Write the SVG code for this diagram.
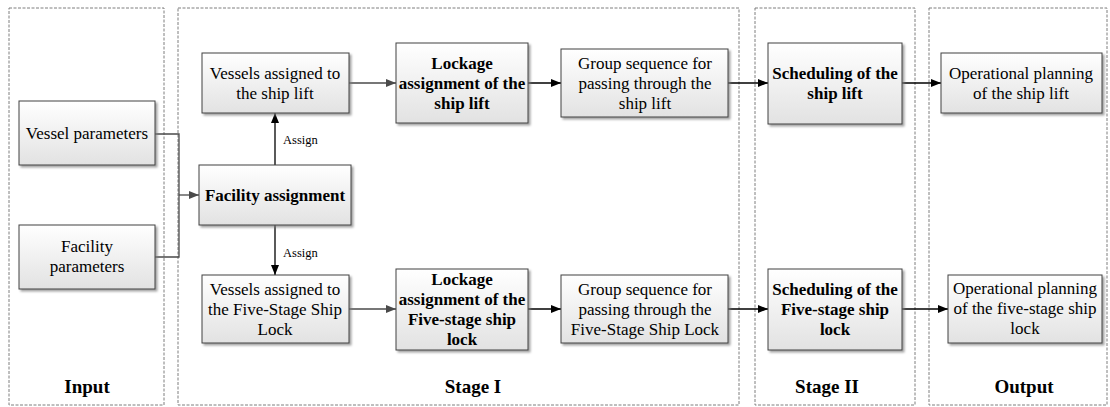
<svg xmlns="http://www.w3.org/2000/svg" width="1110" height="407" viewBox="0 0 1110 407">
<defs>
<linearGradient id="g" x1="0" y1="0" x2="0" y2="1">
<stop offset="0" stop-color="#ffffff"/>
<stop offset="1" stop-color="#e2e2e2"/>
</linearGradient>
<filter id="sh" x="-10%" y="-10%" width="130%" height="130%">
<feDropShadow dx="2" dy="2" stdDeviation="1" flood-color="#7a7a7a" flood-opacity="0.7"/>
</filter>
<marker id="ab" viewBox="0 0 10 10" refX="10" refY="5" markerWidth="10" markerHeight="10" markerUnits="userSpaceOnUse" orient="auto">
<path d="M0,1 L10,5 L0,9 z" fill="#000"/>
</marker>
<marker id="ag" viewBox="0 0 10 10" refX="10" refY="5" markerWidth="10" markerHeight="10" markerUnits="userSpaceOnUse" orient="auto">
<path d="M0,1 L10,5 L0,9 z" fill="#4a4a4a"/>
</marker>
</defs>
<style>
.panel{fill:none;stroke:#7f7f7f;stroke-width:1;stroke-dasharray:3,1.5}
.box{fill:url(#g);stroke:#404040;stroke-width:1;filter:url(#sh)}
.t{font-family:"Liberation Serif","Times New Roman",serif;font-size:17px;fill:#000;text-anchor:middle}
.b{font-weight:bold}
.pl{font-family:"Liberation Serif","Times New Roman",serif;font-size:19px;font-weight:bold;text-anchor:middle}
.as{font-family:"Liberation Serif","Times New Roman",serif;font-size:12.5px}
.cb{fill:none;stroke:#000;stroke-width:1.3;marker-end:url(#ab)}
.cg{fill:none;stroke:#4a4a4a;stroke-width:1.3}
.cga{fill:none;stroke:#4a4a4a;stroke-width:1.3;marker-end:url(#ag)}
</style>
<g id="panels">
<rect class="panel" x="9" y="8" width="155" height="397"/>
<rect class="panel" x="178" y="8" width="561" height="397"/>
<rect class="panel" x="755" y="8" width="160" height="397"/>
<rect class="panel" x="929" y="8" width="178" height="397"/>
<text class="pl" x="87" y="393">Input</text>
<text class="pl" x="473" y="393">Stage I</text>
<text class="pl" x="827" y="393">Stage II</text>
<text class="pl" x="1024" y="393">Output</text>
</g>
<g id="connectors">
<polyline class="cg" points="155,134 179,134 179,257 155,257"/>
<line class="cga" x1="179" y1="195" x2="199" y2="195"/>
<line class="cb" x1="275" y1="165" x2="275" y2="113"/>
<line class="cb" x1="275" y1="225" x2="275" y2="275"/>
<line class="cga" x1="349" y1="83" x2="396" y2="83"/>
<line class="cb" x1="528" y1="83" x2="561" y2="83"/>
<line class="cb" x1="728" y1="83" x2="768" y2="83"/>
<line class="cb" x1="902" y1="83" x2="941" y2="83"/>
<line class="cga" x1="349" y1="309" x2="396" y2="309"/>
<line class="cb" x1="528" y1="309" x2="561" y2="309"/>
<line class="cb" x1="728" y1="309" x2="768" y2="309"/>
<line class="cb" x1="902" y1="309" x2="948" y2="309"/>
<text class="as" x="283" y="144">Assign</text>
<text class="as" x="283" y="257">Assign</text>
</g>
<g id="vessel-params">
<rect class="box" x="19" y="101" width="136" height="64"/>
<text class="t" x="87" y="139">Vessel parameters</text>
</g>
<g id="facility-params">
<rect class="box" x="19" y="225" width="136" height="64"/>
<text class="t" x="87" y="252">Facility</text>
<text class="t" x="87" y="272">parameters</text>
</g>
<g id="facility-assignment">
<rect class="box" x="199" y="165" width="152" height="60"/>
<text class="t b" x="275" y="201">Facility assignment</text>
</g>
<g id="vessels-lift">
<rect class="box" x="202" y="53" width="147" height="60"/>
<text class="t" x="275" y="79">Vessels assigned to</text>
<text class="t" x="275" y="99">the ship lift</text>
</g>
<g id="vessels-lock">
<rect class="box" x="202" y="275" width="147" height="68"/>
<text class="t" x="275" y="295">Vessels assigned to</text>
<text class="t" x="275" y="315">the Five-Stage Ship</text>
<text class="t" x="275" y="335">Lock</text>
</g>
<g id="lockage-lift">
<rect class="box" x="396" y="43" width="132" height="80"/>
<text class="t b" x="462" y="69">Lockage</text>
<text class="t b" x="462" y="89">assignment of the</text>
<text class="t b" x="462" y="109">ship lift</text>
</g>
<g id="lockage-lock">
<rect class="box" x="396" y="269" width="132" height="81"/>
<text class="t b" x="462" y="285">Lockage</text>
<text class="t b" x="462" y="305">assignment of the</text>
<text class="t b" x="462" y="325">Five-stage ship</text>
<text class="t b" x="462" y="345">lock</text>
</g>
<g id="group-lift">
<rect class="box" x="561" y="49" width="167" height="68"/>
<text class="t" x="645" y="69">Group sequence for</text>
<text class="t" x="645" y="89">passing through the</text>
<text class="t" x="645" y="109">ship lift</text>
</g>
<g id="group-lock">
<rect class="box" x="561" y="275" width="167" height="68"/>
<text class="t" x="645" y="295">Group sequence for</text>
<text class="t" x="645" y="315">passing through the</text>
<text class="t" x="645" y="335">Five-Stage Ship Lock</text>
</g>
<g id="sched-lift">
<rect class="box" x="768" y="43" width="134" height="81"/>
<text class="t b" x="835" y="79">Scheduling of the</text>
<text class="t b" x="835" y="99">ship lift</text>
</g>
<g id="sched-lock">
<rect class="box" x="768" y="269" width="134" height="81"/>
<text class="t b" x="835" y="295">Scheduling of the</text>
<text class="t b" x="835" y="315">Five-stage ship</text>
<text class="t b" x="835" y="335">lock</text>
</g>
<g id="op-lift">
<rect class="box" x="941" y="53" width="161" height="60"/>
<text class="t" x="1021" y="79">Operational planning</text>
<text class="t" x="1021" y="99">of the ship lift</text>
</g>
<g id="op-lock">
<rect class="box" x="948" y="275" width="154" height="68"/>
<text class="t" x="1025" y="294">Operational planning</text>
<text class="t" x="1025" y="314">of the five-stage ship</text>
<text class="t" x="1025" y="334">lock</text>
</g>
</svg>
